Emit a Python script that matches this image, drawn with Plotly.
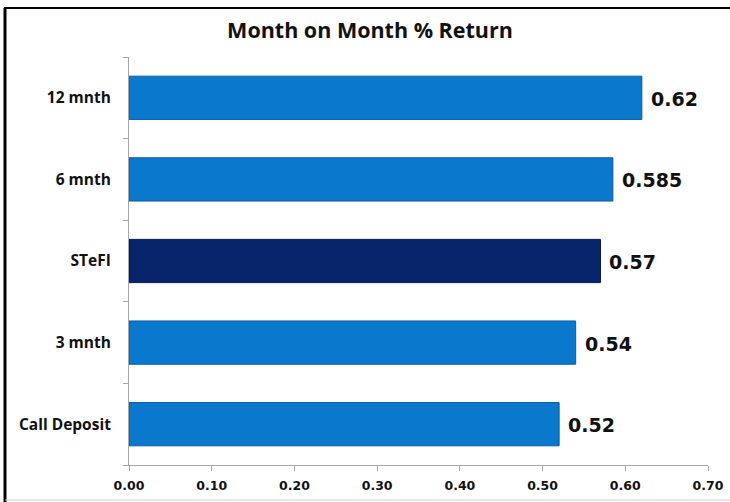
import plotly.graph_objects as go

categories = ["Call Deposit", "3 mnth", "STeFI", "6 mnth", "12 mnth"]
values = [0.52, 0.54, 0.57, 0.585, 0.62]
labels = ["0.52", "0.54", "0.57", "0.585", "0.62"]
bar_colors = ["#0A78CD", "#0A78CD", "#07246A", "#0A78CD", "#0A78CD"]
line_colors = ["#0A5C9F", "#0A5C9F", "#051A4C", "#0A5C9F", "#0A5C9F"]
x_ticks = [0.0, 0.1, 0.2, 0.3, 0.4, 0.5, 0.6, 0.7]
x_tick_text = ["0.00", "0.10", "0.20", "0.30", "0.40", "0.50", "0.60", "0.70"]

CAT_FONT = "'Open Sans', Lato, sans-serif"
NUM_FONT = "'DejaVu Sans', Verdana, sans-serif"

fig = go.Figure(go.Bar(
    x=values, y=categories, orientation="h",
    marker=dict(color=bar_colors, line=dict(color=line_colors, width=1)),
    hoverinfo="skip",
))

for v, c, t in zip(values, categories, labels):
    fig.add_annotation(x=v, y=c, text="<b>%s</b>" % t, showarrow=False,
                       xanchor="left", yanchor="middle", xshift=7, yshift=-1,
                       font=dict(family=NUM_FONT, size=19, color="#111111"))

L, R, T, B = 129, 22, 57, 37
pw, ph = 730.0 - L - R, 502.0 - T - B
def px_x(px):
    return (px - L) / pw
def px_y(py):
    return (502 - B - py) / ph

fig.update_layout(
    width=730, height=502,
    margin=dict(l=L, r=R, t=T, b=B, autoexpand=False),
    paper_bgcolor="white", plot_bgcolor="white",
    bargap=0.47,
    showlegend=False,
    title=dict(text="<b>Month on Month % Return</b>", x=px_x(370), xref="paper",
               xanchor="center", y=1 - 30/502, yanchor="middle",
               font=dict(family=CAT_FONT, size=21.5, color="#111111")),
    xaxis=dict(range=[0, 0.7], tickvals=x_ticks, ticktext=x_tick_text,
               automargin=False,
               showgrid=False, zeroline=False, showline=True, linecolor="#A6A6A6",
               linewidth=1, ticks="outside", ticklen=5, tickcolor="#A6A6A6",
               ticklabelstandoff=4,
               tickfont=dict(family=NUM_FONT, size=12.5, color="#111111", weight="bold")),
    yaxis=dict(categoryorder="array", categoryarray=categories,
               automargin=False,
               showgrid=False, zeroline=False, showline=True, linecolor="#A6A6A6",
               linewidth=1, ticks="outside", ticklen=5, tickcolor="#A6A6A6",
               tickson="boundaries", ticklabelstandoff=14,
               tickfont=dict(family=CAT_FONT, size=15.5, color="#111111", weight="bold")),
    shapes=[
        dict(type="line", xref="paper", yref="paper", x0=px_x(5), x1=px_x(5),
             y0=px_y(8), y1=px_y(502), line=dict(color="#000000", width=3)),
        dict(type="line", xref="paper", yref="paper", x0=px_x(4), x1=px_x(730),
             y0=px_y(8), y1=px_y(8), line=dict(color="#000000", width=2)),
        dict(type="line", xref="paper", yref="paper", x0=px_x(5), x1=px_x(730),
             y0=px_y(500), y1=px_y(500), line=dict(color="#D0D0D0", width=1)),
    ],
)

fig.write_html(
    "out.html",
    config={"displayModeBar": False, "responsive": False},
    post_script=(
        "document.documentElement.style.margin='0';"
        "document.documentElement.style.overflow='hidden';"
        "document.body.style.margin='0';document.body.style.padding='0';"
        "document.body.style.overflow='hidden';"
    ),
)
